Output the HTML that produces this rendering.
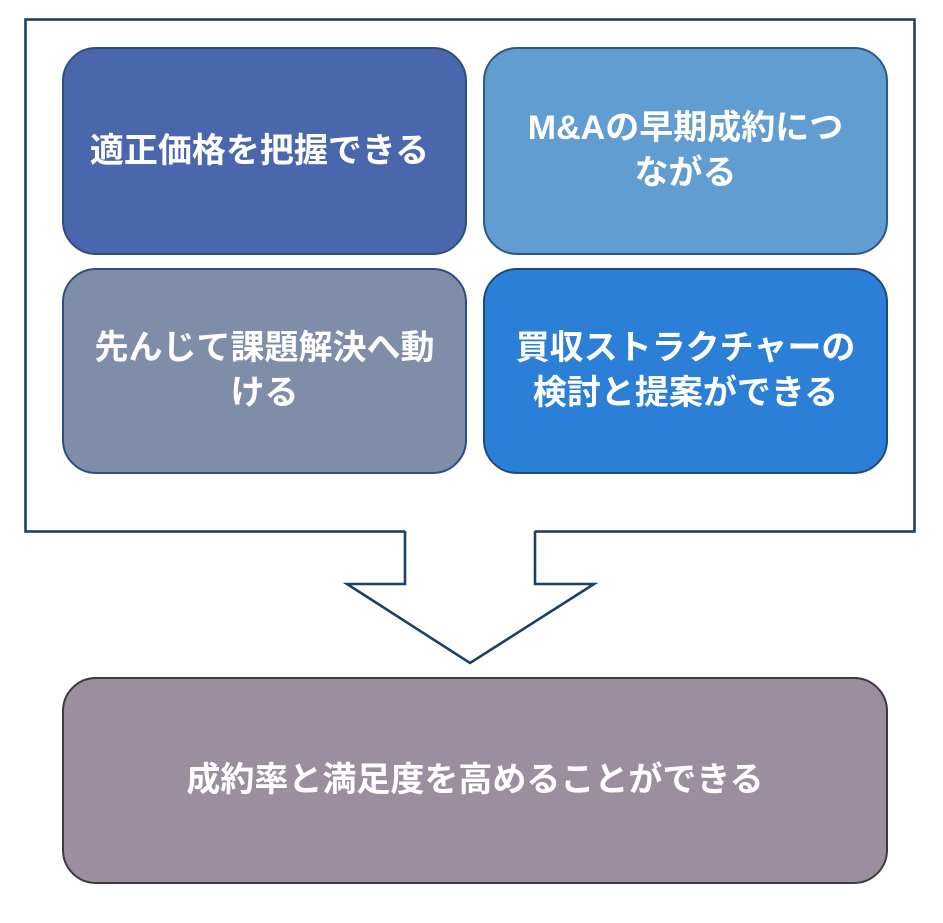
<!DOCTYPE html>
<html>
<head>
<meta charset="utf-8">
<style>
  html, body { margin:0; padding:0; background:#ffffff; }
  body { width:943px; height:923px; position:relative; overflow:hidden;
         font-family:"Liberation Sans","Noto Sans CJK JP",sans-serif; }
  svg.bg { position:absolute; left:0; top:0; }
  .box { position:absolute; box-sizing:border-box; border-radius:34px;
         border:2px solid #24507d; display:flex; align-items:center; justify-content:center;
         color:#ffffff; font-weight:bold; font-size:34px; line-height:45px; text-align:center;
         white-space:nowrap; }
</style>
</head>
<body>
<svg class="bg" width="943" height="923" viewBox="0 0 943 923">
  <rect x="25.5" y="19.5" width="889" height="512" fill="#ffffff" stroke="#1c3f6b" stroke-width="2.6"/>
  <polygon points="405,520 405,584 346,584 470,664 595,584 535,584 535,520" fill="#ffffff" stroke="none"/>
  <polyline points="405,531 405,584 347,584 470,663 594,584 535,584 535,531" fill="none" stroke="#1c3f6b" stroke-width="2.6" stroke-linejoin="miter"/>
</svg>

<div class="box" style="left:62px;top:47px;width:405px;height:208px;background:#4a67ad;border-color:#2c4f7e;">
  <span style="margin-right:10px;">適正価格を把握できる</span>
</div>
<div class="box" style="left:483px;top:47px;width:405px;height:208px;background:#619dd1;border-color:#2c5a88;">
  <span>M&amp;Aの早期成約につ<br>ながる</span>
</div>
<div class="box" style="left:62px;top:268px;width:405px;height:206px;background:#7f8ea8;border-color:#2c4f7e;">
  <span>先んじて課題解決へ動<br>ける</span>
</div>
<div class="box" style="left:483px;top:268px;width:405px;height:206px;background:#2b7fd7;border-color:#1f4a78;">
  <span>買収ストラクチャーの<br>検討と提案ができる</span>
</div>
<div class="box" style="left:62px;top:677px;width:826px;height:207px;background:#9b8f9f;border-color:#3d3940;">
  <span>成約率と満足度を高めることができる</span>
</div>
</body>
</html>
